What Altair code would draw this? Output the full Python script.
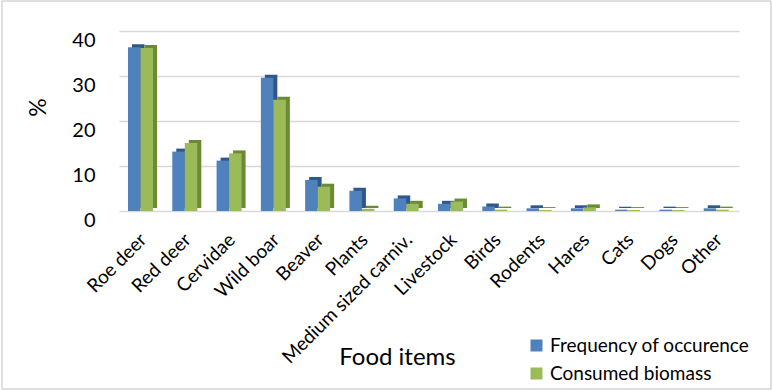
import altair as alt
import pandas as pd

categories = ["Roe deer", "Red deer", "Cervidae", "Wild boar", "Beaver", "Plants",
              "Medium sized carniv.", "Livestock", "Birds", "Rodents", "Hares",
              "Cats", "Dogs", "Other"]
frequency = [36.4, 13.2, 11.2, 29.6, 6.9, 4.5, 2.8, 1.6, 1.0, 0.6, 0.6, 0.3, 0.3, 0.6]
biomass = [36.2, 15.1, 12.8, 24.7, 5.4, 0.5, 1.6, 2.1, 0.3, 0.2, 0.8, 0.2, 0.2, 0.3]
series = ["Frequency of occurence", "Consumed biomass"]

rows = []
for i, c in enumerate(categories):
    rows.append({"item": c, "series": series[0], "value": frequency[i]})
    rows.append({"item": c, "series": series[1], "value": biomass[i]})
df = pd.DataFrame(rows)

FONT = "Lato"

x = alt.X("item:N", sort=categories,
          scale=alt.Scale(paddingInner=0, paddingOuter=0),
          axis=alt.Axis(title="Food items", labelAngle=-45, labelFontSize=19,
                        labelColor="#000000", labelPadding=19, labelOffset=-4,
                        ticks=False, domain=False, labelLimit=0,
                        titleFontSize=24, titleFontWeight="normal", titleColor="#000000",
                        titleX=278, titleY=146, titleAlign="center", titleBaseline="middle"))
y = alt.Y("value:Q", scale=alt.Scale(domain=[0, 40]),
          axis=alt.Axis(title="%", values=[0, 10, 20, 30, 40], labelFontSize=20,
                        labelColor="#000000", labelPadding=24, labelOffset=9,
                        ticks=False, domain=False,
                        gridColor="#D9D9D9", gridWidth=1.5,
                        titleFontSize=23, titleFontWeight="normal", titleColor="#000000",
                        titleX=-81, titleY=76, titleAngle=-90, titleAlign="center",
                        titleBaseline="middle"))

shadow = alt.Chart(df).mark_bar(yOffset=-3).encode(
    x=x, y=y,
    xOffset=alt.XOffset("series:N", sort=series,
                        scale=alt.Scale(domain=series, range=[13, 38],
                                        paddingInner=0, paddingOuter=0)),
    color=alt.Color("series:N", sort=series,
                    scale=alt.Scale(domain=series, range=["#30568A", "#6A8A33"]),
                    legend=None),
)

front = alt.Chart(df).mark_bar().encode(
    x=x, y=y,
    xOffset=alt.XOffset("series:N", sort=series,
                        scale=alt.Scale(domain=series, range=[9, 34],
                                        paddingInner=0, paddingOuter=0)),
    color=alt.Color("series:N", sort=series,
                    scale=alt.Scale(domain=series, range=["#4F81BD", "#9BBB59"]),
                    legend=alt.Legend(title=None, orient="none", legendX=408, legendY=305,
                                      symbolType="square", symbolSize=144,
                                      symbolStrokeWidth=0, labelFontSize=19,
                                      labelColor="#000000", rowPadding=8,
                                      labelOffset=4, labelLimit=0)),
)

border = alt.Chart(pd.DataFrame({"a": [0]})).mark_rect(
    fill=None, stroke="#BFBFBF", strokeWidth=1
).encode(x=alt.value(-117), x2=alt.value(652), y=alt.value(-30), y2=alt.value(358))

chart = alt.layer(shadow, front, border).resolve_scale(
    color="independent", xOffset="independent"
).properties(
    width=620, height=180,
    autosize=alt.AutoSizeParams(type="none"),
    padding={"left": 119, "top": 31, "right": 34, "bottom": 180},
    background="#FFFFFF",
).configure(font=FONT).configure_view(stroke=None)

chart.save("out.html", embed_options={"renderer": "svg", "actions": False})
